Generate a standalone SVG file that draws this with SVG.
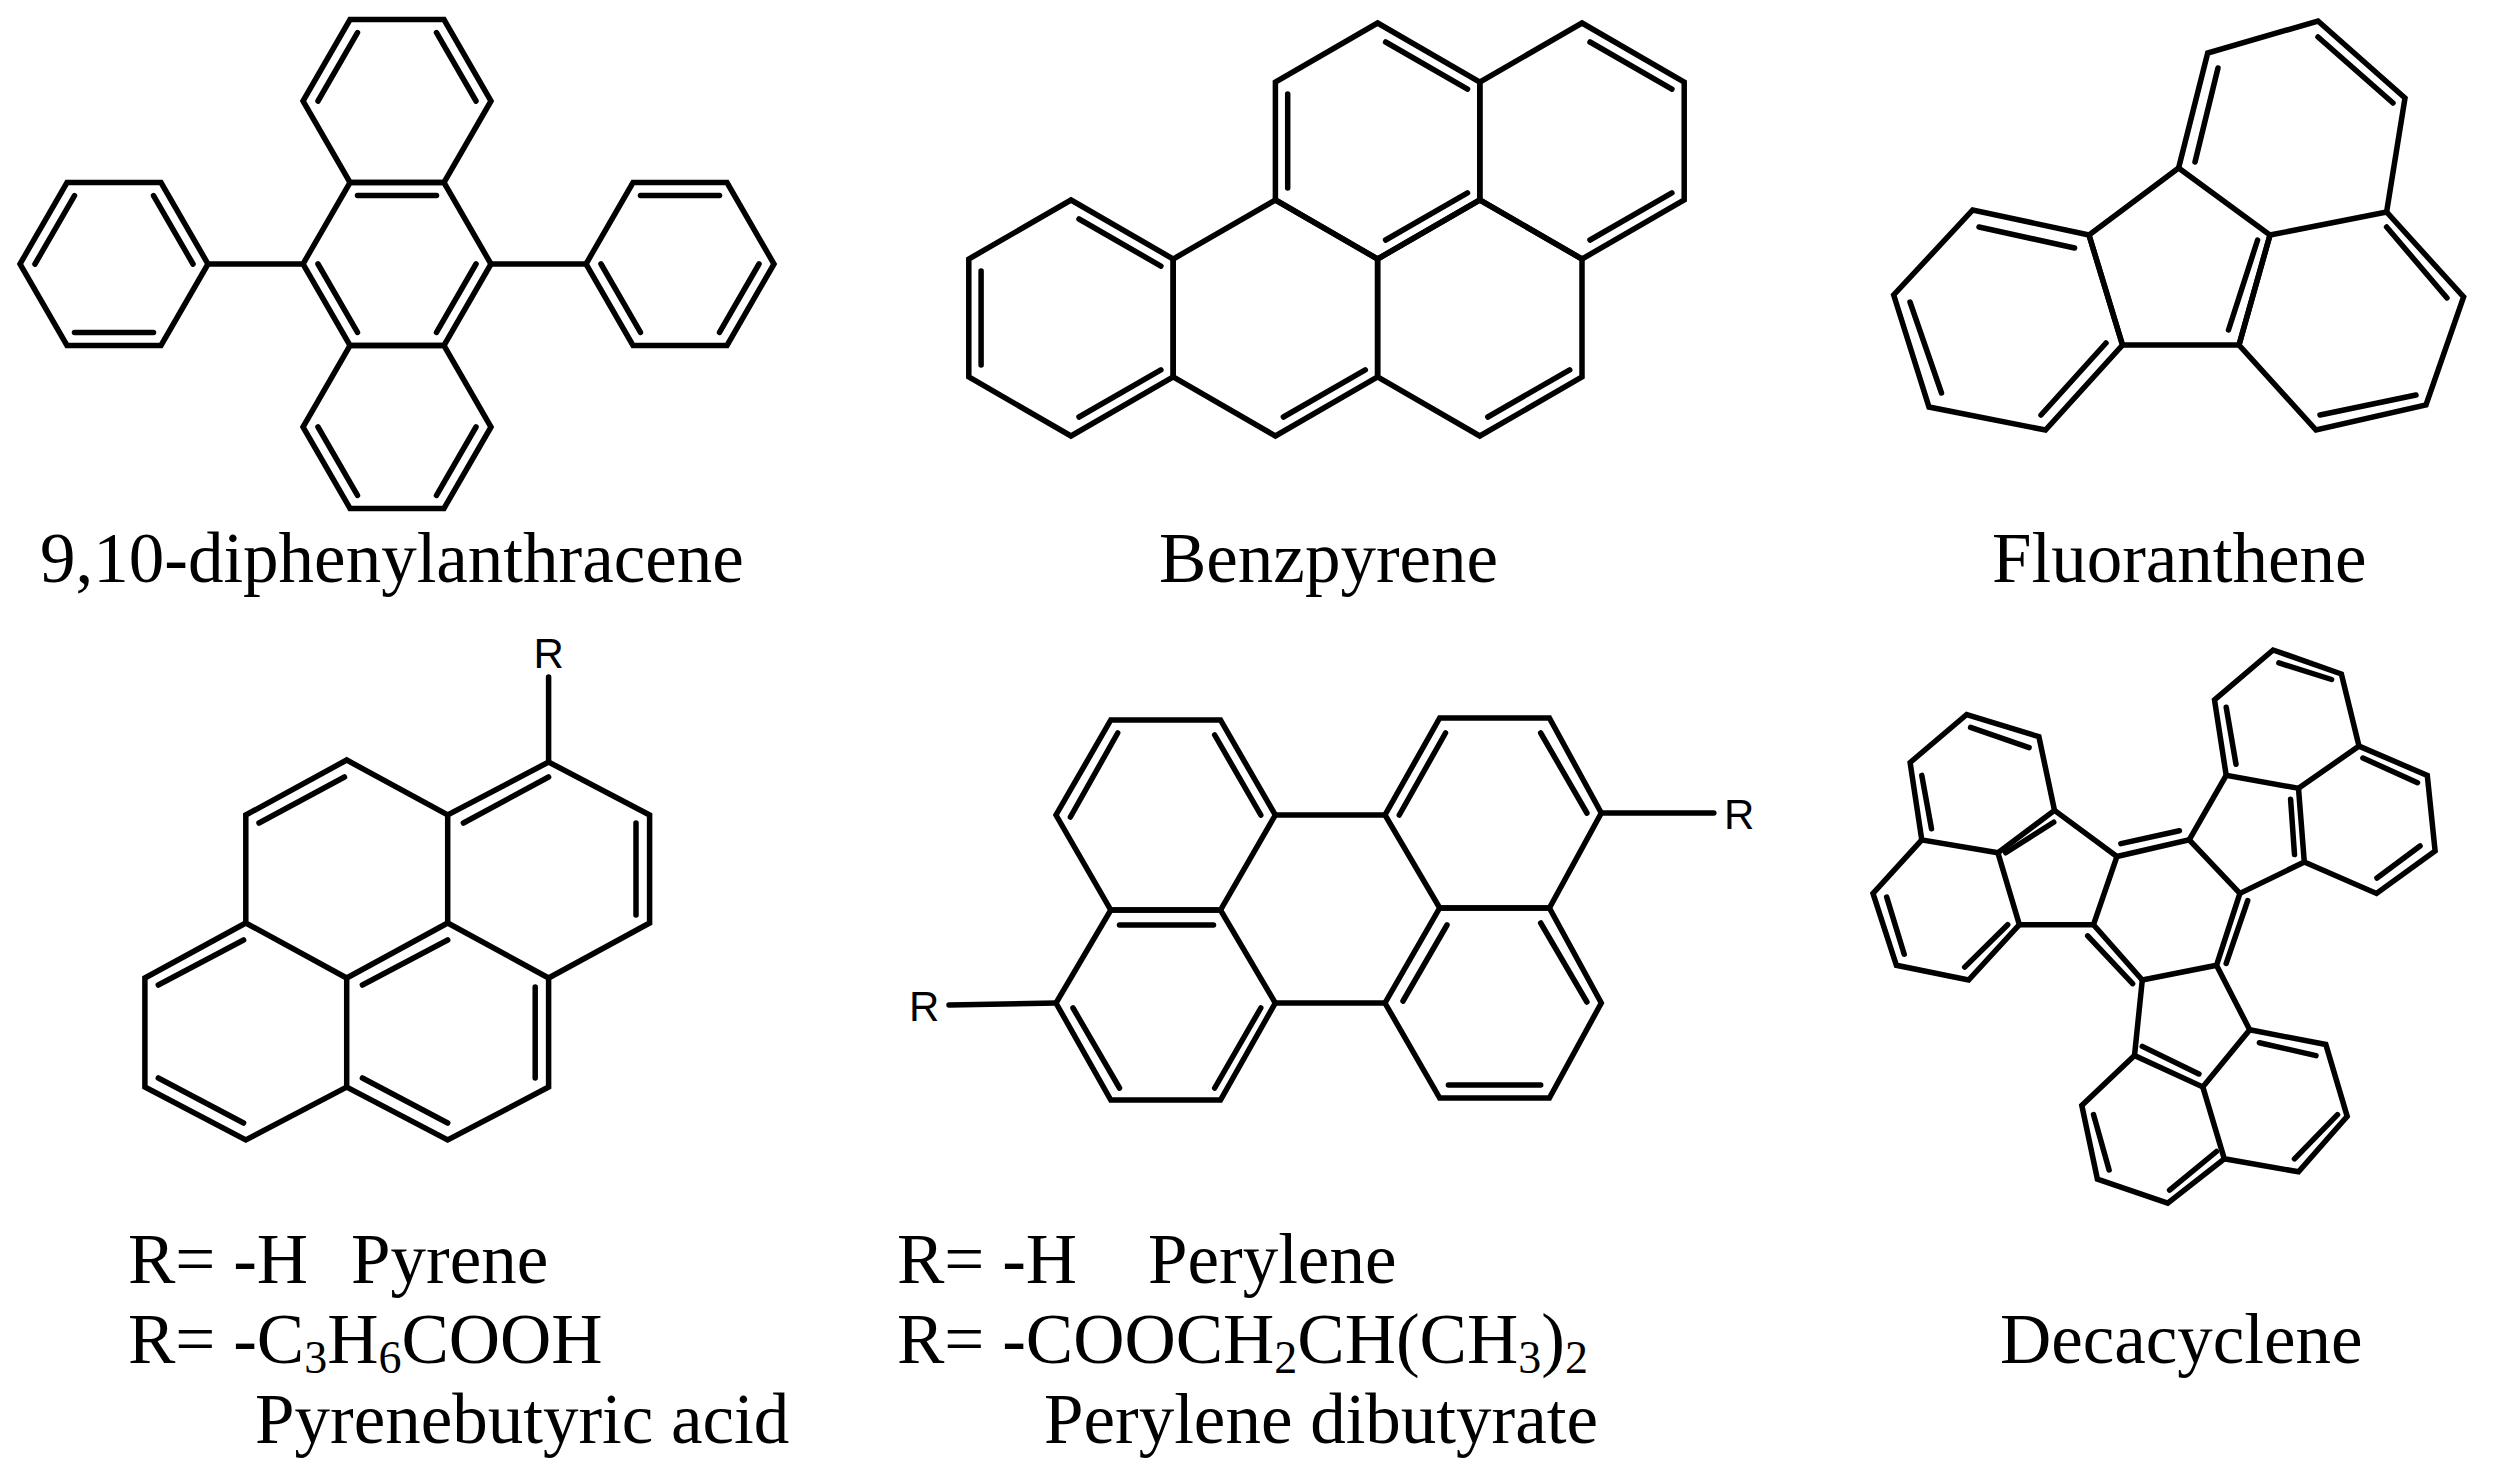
<svg xmlns="http://www.w3.org/2000/svg" xmlns:xlink="http://www.w3.org/1999/xlink" width="2499" height="1484" viewBox="0 0 2499 1484">
<style>
.b{fill:none;stroke:#000;stroke-width:5.5;stroke-linejoin:miter;stroke-linecap:round}
.t{font-family:"Liberation Serif","Times New Roman",serif;font-size:71px;fill:#000}
.r{font-family:"Liberation Sans",Arial,sans-serif;font-size:42px;fill:#000}
</style>
<defs>
<polygon id="hA" class="b" points="94,0 47,81.4 -47,81.4 -94,0 -47,-81.4 47,-81.4"/>
<line id="a0" class="b" x1="79" y1="0" x2="39.5" y2="68.4"/>
<line id="a1" class="b" x1="39.5" y1="68.4" x2="-39.5" y2="68.4"/>
<line id="a2" class="b" x1="-39.5" y1="68.4" x2="-79" y2="0"/>
<line id="a3" class="b" x1="-79" y1="0" x2="-39.5" y2="-68.4"/>
<line id="a4" class="b" x1="-39.5" y1="-68.4" x2="39.5" y2="-68.4"/>
<line id="a5" class="b" x1="39.5" y1="-68.4" x2="79" y2="0"/>
<polygon id="hB" class="b" points="0,-118 102.2,-59 102.2,59 0,118 -102.2,59 -102.2,-59"/>
<line id="b0" class="b" x1="89.9" y1="51.9" x2="8" y2="99"/>
<line id="b2" class="b" x1="-89.9" y1="47" x2="-89.9" y2="-47"/>
<line id="b4" class="b" x1="8" y1="-99" x2="89.9" y2="-51.9"/>
</defs>

<g id="dpa">
<use href="#hA" x="397" y="101"/><use href="#a3" x="397" y="101"/><use href="#a5" x="397" y="101"/>
<use href="#hA" x="397" y="264"/><use href="#a0" x="397" y="264"/><use href="#a2" x="397" y="264"/><use href="#a4" x="397" y="264"/>
<use href="#hA" x="397" y="427"/><use href="#a0" x="397" y="427"/><use href="#a2" x="397" y="427"/>
<use href="#hA" x="114" y="264"/><use href="#a1" x="114" y="264"/><use href="#a3" x="114" y="264"/><use href="#a5" x="114" y="264"/>
<use href="#hA" x="680" y="264"/><use href="#a0" x="680" y="264"/><use href="#a2" x="680" y="264"/><use href="#a4" x="680" y="264"/>
<line class="b" x1="208" y1="264" x2="303" y2="264"/><line class="b" x1="491" y1="264" x2="586" y2="264"/>
</g>

<g id="benzpyrene">
<use href="#hB" x="1071" y="318"/><use href="#b0" x="1071" y="318"/><use href="#b2" x="1071" y="318"/><use href="#b4" x="1071" y="318"/>
<use href="#hB" x="1275.4" y="318"/><use href="#b0" x="1275.4" y="318"/>
<use href="#hB" x="1377.6" y="141"/><use href="#b0" x="1377.6" y="141"/><use href="#b2" x="1377.6" y="141"/><use href="#b4" x="1377.6" y="141"/>
<use href="#hB" x="1479.8" y="318"/><use href="#b0" x="1479.8" y="318"/>
<use href="#hB" x="1582" y="141"/><use href="#b0" x="1582" y="141"/><use href="#b4" x="1582" y="141"/>
</g>

<g id="fluoranthene">
<polygon class="b" points="2178.6,168 2089,235 2122.5,345 2239,345 2270,235"/>
<polygon class="b" points="2089,235 1972.7,210 1893.7,295 1929,407 2045.5,430 2122.5,345"/>
<polygon class="b" points="2270,235 2386.6,212 2463.6,297 2426,405 2316,430 2239,345"/>
<polyline class="b" points="2178.6,168 2207.7,53 2318,21 2405,98 2386.6,212"/>
<line class="b" x1="1979" y1="227" x2="2074.6" y2="248"/>
<line class="b" x1="1910" y1="302" x2="1941.5" y2="393"/>
<line class="b" x1="2041" y1="415" x2="2106" y2="343"/>
<line class="b" x1="2218" y1="68" x2="2195" y2="162"/>
<line class="b" x1="2318" y1="37" x2="2393" y2="103"/>
<line class="b" x1="2386.6" y1="227" x2="2447" y2="298"/>
<line class="b" x1="2320" y1="415" x2="2416" y2="395"/>
<line class="b" x1="2257.6" y1="240" x2="2228.5" y2="330"/>
</g>

<g id="pyrene">
<polyline class="b" points="245.8,923 245.8,815 346.7,760 447.7,815 548.6,762 649.6,815 649.6,923 548.6,978 548.6,1087 447.7,1140 346.7,1087 245.8,1140 144.9,1087 144.9,978 245.8,923 346.7,978 447.7,923 548.6,978"/>
<line class="b" x1="447.7" y1="815" x2="447.7" y2="923"/>
<line class="b" x1="346.7" y1="978" x2="346.7" y2="1087"/>
<line class="b" x1="548.6" y1="762" x2="548.6" y2="677"/>
<line class="b" x1="259" y1="823" x2="344.5" y2="777"/>
<line class="b" x1="463.4" y1="823" x2="548.6" y2="777"/>
<line class="b" x1="636" y1="823" x2="636" y2="915"/>
<line class="b" x1="158.3" y1="985" x2="243.6" y2="940"/>
<line class="b" x1="362.4" y1="985" x2="447.7" y2="940"/>
<line class="b" x1="535.2" y1="987" x2="535.2" y2="1078"/>
<line class="b" x1="158.3" y1="1078" x2="243.6" y2="1123"/>
<line class="b" x1="362.4" y1="1078" x2="447.7" y2="1123"/>
<text class="r" x="548.6" y="668" text-anchor="middle">R</text>
</g>

<g id="perylene">
<polygon class="b" points="1110.8,720 1220.5,720 1275.3,815 1220.5,910 1110.8,910 1056,815"/>
<polygon class="b" points="1110.8,910 1220.5,910 1275.3,1003 1220.5,1100 1110.8,1100 1056,1003"/>
<polygon class="b" points="1439.7,718 1549.4,718 1601.3,813 1549.4,908 1439.7,908 1385,815"/>
<polygon class="b" points="1439.7,908 1549.4,908 1601.3,1003 1549.4,1098 1439.7,1098 1385,1003"/>
<line class="b" x1="1275.3" y1="815" x2="1385" y2="815"/>
<line class="b" x1="1275.3" y1="1003" x2="1385" y2="1003"/>
<line class="b" x1="1601.3" y1="813" x2="1713.8" y2="813"/>
<line class="b" x1="1056" y1="1003" x2="949" y2="1005"/>
<line class="b" x1="1117.7" y1="733" x2="1070.4" y2="817"/>
<line class="b" x1="1214.7" y1="735" x2="1260.8" y2="815"/>
<line class="b" x1="1119.5" y1="925" x2="1213.5" y2="925"/>
<line class="b" x1="1073" y1="1008" x2="1119.5" y2="1088"/>
<line class="b" x1="1260.8" y1="1008" x2="1214.7" y2="1088"/>
<line class="b" x1="1445.5" y1="733" x2="1399.3" y2="815"/>
<line class="b" x1="1540.7" y1="733" x2="1586.9" y2="813"/>
<line class="b" x1="1447" y1="925" x2="1403" y2="1001"/>
<line class="b" x1="1540.7" y1="923" x2="1586.9" y2="1002"/>
<line class="b" x1="1448.4" y1="1085" x2="1540.7" y2="1085"/>
<text class="r" x="1724" y="829">R</text>
<text class="r" x="909" y="1021">R</text>
</g>

<g id="decacyclene">
<polygon class="b" points="2116.9,856.5 2189.2,839.9 2239.9,893.4 2216.5,965.3 2142.3,980 2093.5,924.7"/>
<polyline class="b" points="2116.9,856.5 2054.5,810.4 1997.9,852.8 2019.4,924.7 2093.5,924.7"/>
<polyline class="b" points="2054.5,810.4 2038.9,736.7 1966.7,714.5 1910.1,762.5 1921.8,839.9 1997.9,852.8"/>
<polyline class="b" points="1921.8,839.9 1873,893.4 1896.4,965.3 1968.6,980 2019.4,924.7"/>
<polyline class="b" points="2189.2,839.9 2226.2,775.4 2298.5,788.3 2304.3,862 2239.9,893.4"/>
<polyline class="b" points="2226.2,775.4 2214.5,699.8 2273.1,650 2341.4,674 2359,746.1 2298.5,788.3"/>
<polyline class="b" points="2359,746.1 2427.3,775.4 2435.1,850.9 2376.5,893.4 2304.3,862"/>
<polyline class="b" points="2216.5,965.3 2249.7,1029.8 2202.8,1086.9 2134.5,1055.6 2142.3,980"/>
<polyline class="b" points="2249.7,1029.8 2325.8,1044.5 2347.2,1116.4 2298.5,1171.8 2224.3,1158.8 2202.8,1086.9"/>
<polyline class="b" points="2134.5,1055.6 2081.8,1105.4 2097.4,1179.1 2167.7,1203.1 2224.3,1158.8"/>
<line class="b" x1="1970.6" y1="727.4" x2="2029.1" y2="747.7"/>
<line class="b" x1="1921.8" y1="775.4" x2="1931.5" y2="828.8"/>
<line class="b" x1="2005.7" y1="852.8" x2="2053.7" y2="822.2"/>
<line class="b" x1="1886.7" y1="897.1" x2="1904.2" y2="954.2"/>
<line class="b" x1="1964.7" y1="967.1" x2="2007.7" y2="924.7"/>
<line class="b" x1="2120.9" y1="843.6" x2="2179.4" y2="830.7"/>
<line class="b" x1="2247.7" y1="900.7" x2="2226.2" y2="963.4"/>
<line class="b" x1="2087.7" y1="935.8" x2="2132.6" y2="983.7"/>
<line class="b" x1="2226.2" y1="707.2" x2="2236" y2="764.3"/>
<line class="b" x1="2278.9" y1="662.9" x2="2331.6" y2="679.5"/>
<line class="b" x1="2290.6" y1="799.3" x2="2294.5" y2="854.6"/>
<line class="b" x1="2362.9" y1="758" x2="2417.5" y2="782.7"/>
<line class="b" x1="2420" y1="846" x2="2377" y2="878"/>
<line class="b" x1="2259.4" y1="1042.7" x2="2316" y2="1055.6"/>
<line class="b" x1="2294.5" y1="1158.8" x2="2337.5" y2="1114.6"/>
<line class="b" x1="2142.3" y1="1046.4" x2="2198.9" y2="1074"/>
<line class="b" x1="2093.5" y1="1114.6" x2="2109.1" y2="1169.9"/>
<line class="b" x1="2169.6" y1="1190.2" x2="2216.5" y2="1151.5"/>
</g>

<g id="labels">
<text class="t" x="40" y="582">9,10-diphenylanthracene</text>
<text class="t" x="1159" y="582">Benzpyrene</text>
<text class="t" x="1992" y="582">Fluoranthene</text>
<text class="t" x="128" y="1283">R= -H</text>
<text class="t" x="351" y="1283">Pyrene</text>
<text class="t" x="128" y="1363">R= -C<tspan font-size="46" dy="10">3</tspan><tspan dy="-10">H</tspan><tspan font-size="46" dy="10">6</tspan><tspan dy="-10">COOH</tspan></text>
<text class="t" x="255" y="1443">Pyrenebutyric acid</text>
<text class="t" x="897" y="1283">R= -H</text>
<text class="t" x="1148" y="1283">Perylene</text>
<text class="t" x="897" y="1363">R= -COOCH<tspan font-size="46" dy="10">2</tspan><tspan dy="-10">CH(CH</tspan><tspan font-size="46" dy="10">3</tspan><tspan dy="-10">)</tspan><tspan font-size="46" dy="10">2</tspan></text>
<text class="t" x="1044" y="1443">Perylene dibutyrate</text>
<text class="t" x="2000" y="1363">Decacyclene</text>
</g>
</svg>
